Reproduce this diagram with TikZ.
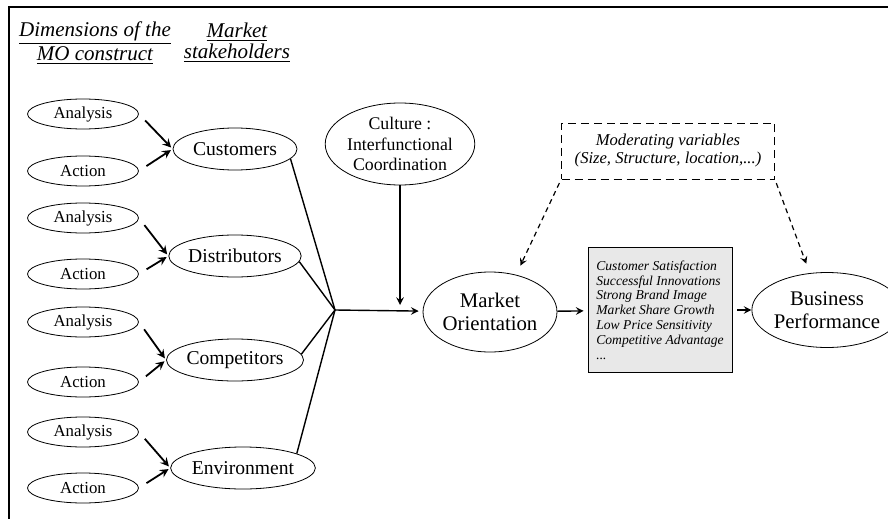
\documentclass[tikz,border=0pt]{standalone}
\usepackage{fontspec}
\setmainfont{Liberation Serif}
\usetikzlibrary{arrows,shapes.geometric,positioning}

\tikzset{
	dimnode/.style={draw, ellipse, minimum width=55.5pt, minimum height=15pt, inner sep=0pt, font=\fontsize{8.4}{10}\selectfont},
	holder/.style={draw, ellipse, minimum width=62pt, minimum height=21pt, inner sep=0pt, font=\fontsize{9.8}{11}\selectfont},
	bigoval/.style={draw, ellipse, align=center, inner sep=0pt, font=\fontsize{10.4}{11.3}\selectfont},
	head/.style={align=center, font=\fontsize{10.5}{10.5}\selectfont\itshape},
	feed/.style={->, line width=0.9pt, shorten <=4.5pt, shorten >=1pt},
	modarrow/.style={->, dash pattern=on 2.5pt off 2pt, line width=0.6pt}
}

\begin{document}
\begin{tikzpicture}[x=0.5pt, y=-0.5pt, >=stealth]
		\useasboundingbox (0,0) rectangle (888,519);
		%frame
		\draw[line width=1.4pt] (8,7) -- (888,7);
		\draw[line width=1pt] (9,7) -- (9,519);

		%headings
		\node[head] (dimhead) at (95,43) {\underline{Dimensions of the}\\\underline{MO construct}};
		\node[head] (stakehead) at (237,43) {\underline{Market}\\\underline{stakeholders}};

		%coordinates
		\coordinate (hub) at (335,310);

		%dimensions
		\node[dimnode] (anA) at (83,114) {Analysis};
		\node[dimnode] (acA) at (83,171) {Action};
		\node[dimnode] (anB) at (83,218) {Analysis};
		\node[dimnode] (acB) at (83,274) {Action};
		\node[dimnode] (anC) at (83,322) {Analysis};
		\node[dimnode] (acC) at (83,382) {Action};
		\node[dimnode] (anD) at (83,432) {Analysis};
		\node[dimnode] (acD) at (83,488) {Action};

		%stakeholders
		\node[holder] (cust) at (235,149) {Customers};
		\node[holder] (dist) at (235,256) {Distributors};
		\node[holder] (comp) at (235,360) {Competitors};
		\node[holder] (env)  at (243,468) {Environment};

		%other nodes
		\node[bigoval, minimum width=70pt, minimum height=41pt, font=\fontsize{8.9}{10.2}\selectfont] (cult) at (400,144) {Culture :\\Interfunctional\\Coordination};
		\node[bigoval, minimum width=62.5pt, minimum height=40pt] (mo) at (490,312) {Market\\Orientation};
		\node[bigoval, minimum width=60pt, minimum height=37.5pt] (bp) at (827,310) {Business\\Performance};
		\node[draw, fill=gray!18, minimum width=72pt, minimum height=62.5pt, align=left, font=\fontsize{6.8}{7.4}\selectfont\itshape] (res) at (660,310) {Customer Satisfaction\\Successful Innovations\\Strong Brand Image\\Market Share Growth\\Low Price Sensitivity\\Competitive Advantage\\...};
		\node[draw, dash pattern=on 4pt off 2.5pt, minimum width=106.5pt, minimum height=28pt, align=center, font=\fontsize{8.3}{9}\selectfont\itshape] (mod) at (668,151) {Moderating variables\\(Size, Structure, location,...)};

		%arrows
		\draw[feed] (anA.east) -- (cust.west);
		\draw[feed] (acA.east) -- (cust.west);
		\draw[feed] (anB.east) -- (dist.west);
		\draw[feed] (acB.east) -- (dist.west);
		\draw[feed] (anC.east) -- (comp.west);
		\draw[feed] (acC.east) -- (comp.west);
		\draw[feed] (anD.east) -- (env.west);
		\draw[feed] (acD.east) -- (env.west);

		\draw[line width=0.7pt] (cust.-10) -- (hub);
		\draw[line width=0.7pt] (dist.-5) -- (hub);
		\draw[line width=0.7pt] (comp.5) -- (hub);
		\draw[line width=0.7pt] (env.15) -- (hub);

		\draw[->, line width=0.7pt, shorten >=2pt] (hub) -- (mo);
		\draw[->, line width=0.7pt, shorten >=2.5pt] (cult) -- (cult |- hub);
		\draw[->, line width=0.7pt, shorten >=2pt] (mo) -- (res);
		\draw[->, line width=0.7pt, shorten <=2.5pt] (res) -- (bp);

		\draw[modarrow, shorten <=2pt, shorten >=5pt] (mod.south west) -- (mo.55);
		\draw[modarrow, shorten <=2pt, shorten >=5pt] (mod.south east) -- (bp.115);
\end{tikzpicture}
\end{document}
